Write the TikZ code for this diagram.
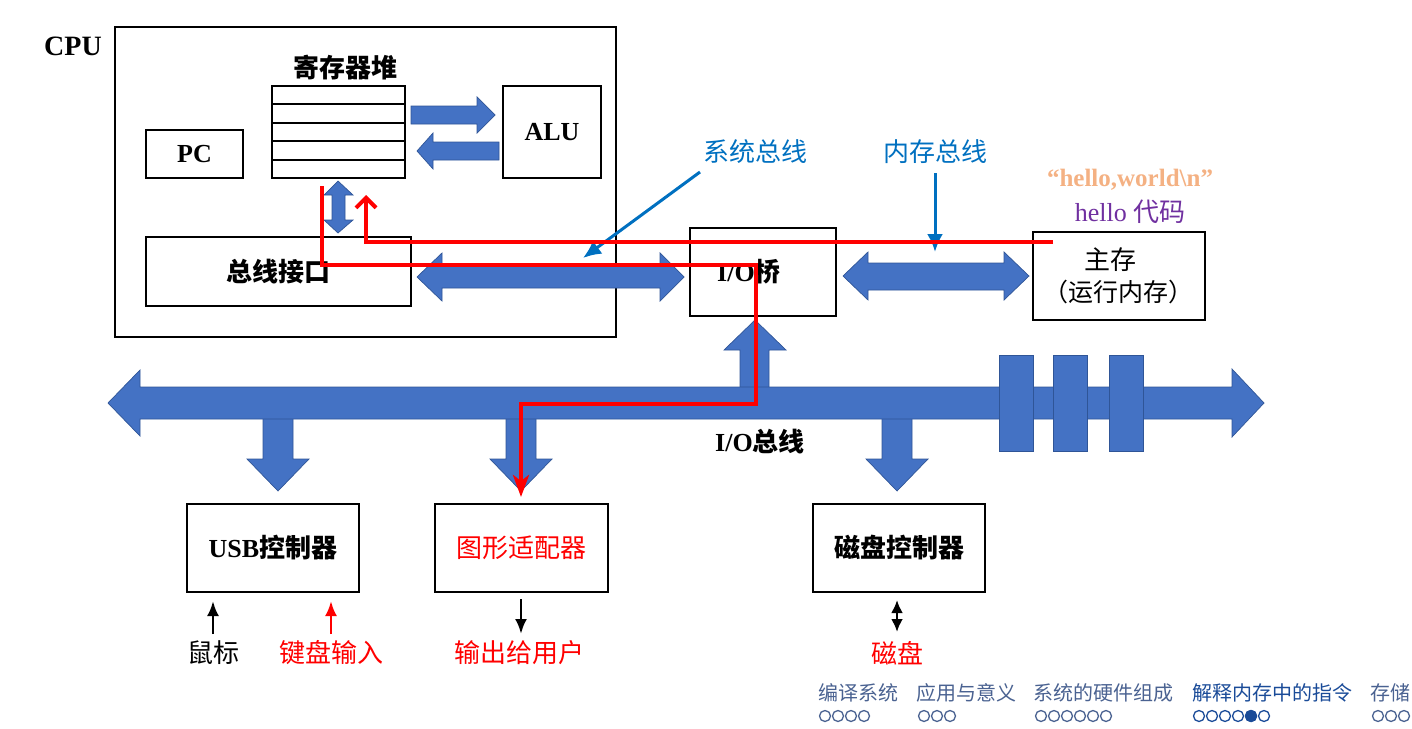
\documentclass[tikz,border=0pt]{standalone}
\usepackage{fontspec}
\setmainfont{Liberation Serif}
\newfontfamily\cjk{Noto Sans CJK SC}
\usetikzlibrary{arrows.meta}

\definecolor{busblue}{HTML}{4472C4}
\definecolor{busedge}{HTML}{2F5597}
\definecolor{labelblue}{HTML}{0070C0}
\definecolor{strorange}{HTML}{F4B183}
\definecolor{codepurple}{HTML}{7030A0}
\definecolor{navgray}{HTML}{4A6291}
\definecolor{navblue}{HTML}{1A4B98}

\newcommand{\fs}[1]{\fontsize{#1}{#1}\selectfont}

\tikzset{
	box/.style={draw, line width=2pt, inner sep=0pt},
	bus/.style={fill=busblue, draw=busedge, line width=0.7pt},
	redline/.style={draw=red, line width=4pt},
	ptr/.style={draw=labelblue, line width=3pt, -{Latex[length=18pt,width=16pt]}},
	devarrow/.style={line width=2.8pt, -{Latex[length=15pt,width=12pt]}},
	navtext/.style={anchor=west, inner sep=0pt, font=\fs{20}\cjk},
	navdot/.style={draw, line width=1.3pt, circle, minimum size=11pt, inner sep=0pt},
}

\begin{document}
\begin{tikzpicture}[x=1pt, y=-1pt]
	\useasboundingbox (0,0) rectangle (1412,728);

	\node[box, minimum width=501pt, minimum height=310pt] (cpu) at (365.5,182) {};
	\node[font=\fs{28}\bfseries] (cpulbl) at (73,46) {CPU};

	\node[box, minimum width=133pt, minimum height=92pt] (regs) at (338.5,132) {};
	\foreach \y in {104.4,122.8,141.2,159.6}
		\draw[line width=2pt] (regs.west |- 0,\y) -- (regs.east |- 0,\y);
	\node[font=\fs{26}\cjk\bfseries] (regslbl) at (345,68) {寄存器堆};

	\node[box, minimum width=97pt, minimum height=48pt, font=\fs{26}\bfseries] (pc) at (194.5,154) {PC};
	\node[box, minimum width=98pt, minimum height=92pt, font=\fs{26}\bfseries] (alu) at (552,132) {ALU};
	\node[box, minimum width=265pt, minimum height=69pt, font=\fs{26}\cjk\bfseries] (bif) at (278.5,271.5) {总线接口};

	\node[box, minimum width=146pt, minimum height=88pt] (bridge) at (763,272) {};
	\node[font=\fs{26}] at (749,272) {\bfseries I/O{\cjk\bfseries 桥}};

	\node[box, minimum width=172pt, minimum height=88pt] (mem) at (1119,276) {};
	\node[font=\fs{26}\cjk] at (1110,260) {主存};
	\node[font=\fs{25}\cjk] at (1118,292) {（运行内存）};
	\node[font=\fs{25}\bfseries, text=strorange] at (1130,180) {“hello,world\textbackslash n”};
	\node[font=\fs{26}, text=codepurple] at (1130,212) {hello {\cjk 代码}};

	\node[font=\fs{26}\cjk, text=labelblue] (sysbus) at (755,152) {系统总线};
	\node[font=\fs{26}\cjk, text=labelblue] (membus) at (935,152) {内存总线};

	\node[box, minimum width=172pt, minimum height=88pt, font=\fs{26}] (usb) at (273,548) {\bfseries USB{\cjk\bfseries 控制器}};
	\node[box, minimum width=173pt, minimum height=88pt, font=\fs{26}\cjk, text=red] (gfx) at (521,548) {图形适配器};
	\node[box, minimum width=172pt, minimum height=88pt, font=\fs{26}\cjk\bfseries] (disk) at (899,548) {磁盘控制器};

	\node[font=\fs{26}\cjk] (mouse) at (213,653) {鼠标};
	\node[font=\fs{26}\cjk, text=red] (keyb) at (331,653) {键盘输入};
	\node[font=\fs{26}\cjk, text=red] (user) at (519,653) {输出给用户};
	\node[font=\fs{26}\cjk, text=red] (dsk) at (897,653) {磁盘};

	% block arrows inside the CPU
	\draw[bus] (411,106) -- (477,106) -- (477,97) -- (495,115) -- (477,133) -- (477,124) -- (411,124) -- cycle;
	\draw[bus] (499,142) -- (433,142) -- (433,133) -- (417,151) -- (433,169) -- (433,160) -- (499,160) -- cycle;
	\draw[bus] (338,181) -- (353,195) -- (345,195) -- (345,220) -- (353,220) -- (338,233)
		-- (324,220) -- (332,220) -- (332,195) -- (324,195) -- cycle;

	% system bus and memory bus
	\draw[bus] (417,277) -- (442,253) -- (442,266) -- (660,266) -- (660,253) -- (684,277)
		-- (660,301) -- (660,288) -- (442,288) -- (442,301) -- cycle;
	\draw[bus] (843,276) -- (868,252) -- (868,263) -- (1004,263) -- (1004,252) -- (1029,276)
		-- (1004,300) -- (1004,290) -- (868,290) -- (868,300) -- cycle;

	% I/O bus
	\draw[bus] (740,390) -- (740,350) -- (724,350) -- (755,320) -- (786,350) -- (769,350) -- (769,390);
	\foreach \x in {278,521,897}
		\draw[bus] (\x-15,416) -- (\x+15,416) -- (\x+15,459) -- (\x+31,459) -- (\x,491) -- (\x-31,459) -- (\x-15,459) -- cycle;
	\draw[bus] (108,403) -- (140,370) -- (140,387) -- (1232,387) -- (1232,369) -- (1264,403)
		-- (1232,437) -- (1232,419) -- (140,419) -- (140,436) -- cycle;
	\foreach \x in {999,1053,1109}
		\draw[bus] (\x,355) rectangle ++(34,96);
	\node[font=\fs{26}] (iobus) at (760,442) {\bfseries I/O{\cjk\bfseries 总线}};

	\coordinate (systip) at (583,258);
	\coordinate (memtip) at (935,252);
	\draw[ptr] (700,172) -- (systip);
	\draw[ptr] (935,173) -- (memtip);

	\draw[devarrow] ([yshift=-41pt]usb.south -| mouse) -- ([yshift=-8pt]usb.south -| mouse);
	\draw[devarrow, red] ([yshift=-41pt]usb.south -| keyb) -- ([yshift=-8pt]usb.south -| keyb);
	\draw[devarrow] ([yshift=-6pt]gfx.south) -- ([yshift=-41pt]gfx.south);
	\draw[devarrow, {Latex[length=13pt,width=12pt]}-{Latex[length=13pt,width=12pt]}] ([yshift=-7pt]disk.south -| dsk) -- ([yshift=-39pt]disk.south -| dsk);

	% data paths
	\coordinate (rstart) at (322,186);
	\coordinate (mstart) at ([xshift=21pt,yshift=-11pt]mem.north west);
	\coordinate (rtip) at (366,195);
	\draw[redline, -{Stealth[length=22pt,width=16pt,inset=6pt]}] (rstart) |- (756,265) -- (756,404) -| ([yshift=6pt]gfx.north);
	\draw[redline, -{Straight Barb[length=10pt,width=20pt]}] (mstart) -| (rtip);

	% navigation
	\node[navtext, text=navgray] (nav1) at (818,693) {编译系统};
	\node[navtext, text=navgray] (nav2) at (916,693) {应用与意义};
	\node[navtext, text=navgray] (nav3) at (1033,693) {系统的硬件组成};
	\node[navtext, text=navblue] (nav4) at (1192,693) {解释内存中的指令};
	\node[navtext, text=navgray] (nav5) at (1370,693) {存储};
	\foreach \x in {0,...,3} \node[navdot, draw=navgray] at (825+13*\x,716) {};
	\foreach \x in {0,...,2} \node[navdot, draw=navgray] at (924+13*\x,716) {};
	\foreach \x in {0,...,5} \node[navdot, draw=navgray] at (1041+13*\x,716) {};
	\foreach \x in {0,...,5} \node[navdot, draw=navblue] at (1199+13*\x,716) {};
	\node[navdot, draw=navblue, fill=navblue] at (1251,716) {};
	\foreach \x in {0,...,2} \node[navdot, draw=navgray] at (1378+13*\x,716) {};
\end{tikzpicture}
\end{document}
